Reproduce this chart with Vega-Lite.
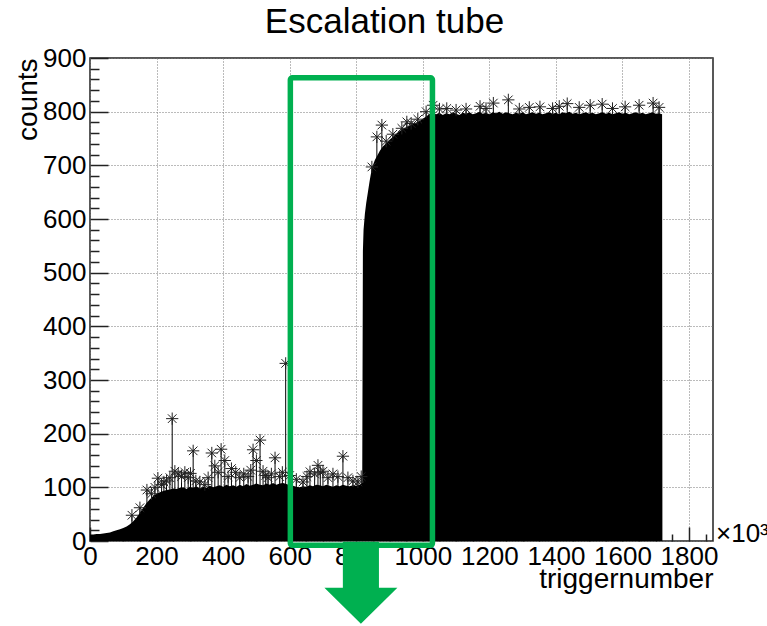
{
  "$schema": "https://vega.github.io/schema/vega-lite/v6.json",
  "width": 623,
  "height": 483,
  "autosize": "none",
  "padding": {"left": 90, "top": 58, "right": 54, "bottom": 85},
  "background": "white",
  "title": {"text": "Escalation tube", "font": "Liberation Sans", "fontSize": 35, "fontWeight": "normal", "color": "black", "anchor": "middle", "frame": "group", "dx": -17, "offset": 5},
  "config": {"view": {"stroke": "#222", "strokeWidth": 1.5}, "font": "Liberation Sans"},
  "datasets": {
    "envelope": [
      {"t": 0, "c": 12}, {"t": 10, "c": 12}, {"t": 20, "c": 13}, {"t": 30, "c": 13}, {"t": 40, "c": 14}, {"t": 50, "c": 15}, {"t": 60, "c": 16}, {"t": 70, "c": 18}, {"t": 80, "c": 20}, {"t": 90, "c": 22},
      {"t": 100, "c": 24}, {"t": 110, "c": 27}, {"t": 120, "c": 31}, {"t": 130, "c": 37}, {"t": 140, "c": 44}, {"t": 150, "c": 53}, {"t": 160, "c": 62}, {"t": 170, "c": 71}, {"t": 180, "c": 78}, {"t": 190, "c": 84},
      {"t": 200, "c": 88}, {"t": 210, "c": 91}, {"t": 220, "c": 93}, {"t": 230, "c": 95}, {"t": 240, "c": 96}, {"t": 250, "c": 98}, {"t": 260, "c": 97}, {"t": 270, "c": 99}, {"t": 280, "c": 100}, {"t": 290, "c": 97},
      {"t": 300, "c": 101}, {"t": 310, "c": 99}, {"t": 320, "c": 102}, {"t": 330, "c": 98}, {"t": 340, "c": 101}, {"t": 350, "c": 99}, {"t": 360, "c": 103}, {"t": 370, "c": 100}, {"t": 380, "c": 102}, {"t": 390, "c": 104},
      {"t": 400, "c": 101}, {"t": 410, "c": 105}, {"t": 420, "c": 102}, {"t": 430, "c": 104}, {"t": 440, "c": 101}, {"t": 450, "c": 105}, {"t": 460, "c": 102}, {"t": 470, "c": 106}, {"t": 480, "c": 103}, {"t": 490, "c": 105},
      {"t": 500, "c": 107}, {"t": 510, "c": 105}, {"t": 520, "c": 104}, {"t": 530, "c": 107}, {"t": 540, "c": 105}, {"t": 550, "c": 108}, {"t": 560, "c": 105}, {"t": 570, "c": 107}, {"t": 580, "c": 108}, {"t": 590, "c": 106},
      {"t": 600, "c": 104}, {"t": 610, "c": 103}, {"t": 620, "c": 101}, {"t": 630, "c": 100}, {"t": 640, "c": 102}, {"t": 650, "c": 101}, {"t": 660, "c": 104}, {"t": 670, "c": 102}, {"t": 680, "c": 105}, {"t": 690, "c": 104},
      {"t": 700, "c": 102}, {"t": 710, "c": 105}, {"t": 720, "c": 103}, {"t": 730, "c": 101}, {"t": 740, "c": 104}, {"t": 750, "c": 102}, {"t": 760, "c": 105}, {"t": 770, "c": 103}, {"t": 780, "c": 102}, {"t": 790, "c": 104},
      {"t": 800, "c": 103}, {"t": 810, "c": 105}, {"t": 818, "c": 108}, {"t": 820, "c": 540}, {"t": 822, "c": 580}, {"t": 826, "c": 610}, {"t": 830, "c": 630}, {"t": 835, "c": 650}, {"t": 840, "c": 670}, {"t": 847, "c": 695},
      {"t": 856, "c": 710}, {"t": 865, "c": 720}, {"t": 871, "c": 727}, {"t": 880, "c": 735}, {"t": 890, "c": 741}, {"t": 901, "c": 748}, {"t": 910, "c": 753}, {"t": 920, "c": 759}, {"t": 931, "c": 764}, {"t": 940, "c": 768},
      {"t": 950, "c": 771}, {"t": 961, "c": 774}, {"t": 970, "c": 777}, {"t": 980, "c": 780}, {"t": 991, "c": 783}, {"t": 1000, "c": 787}, {"t": 1010, "c": 791}, {"t": 1021, "c": 796}, {"t": 1030, "c": 797}, {"t": 1040, "c": 795},
      {"t": 1050, "c": 798}, {"t": 1060, "c": 794}, {"t": 1070, "c": 797}, {"t": 1080, "c": 795}, {"t": 1090, "c": 799}, {"t": 1100, "c": 796}, {"t": 1110, "c": 794}, {"t": 1120, "c": 798}, {"t": 1130, "c": 796}, {"t": 1140, "c": 799},
      {"t": 1150, "c": 795}, {"t": 1160, "c": 797}, {"t": 1170, "c": 800}, {"t": 1180, "c": 796}, {"t": 1190, "c": 798}, {"t": 1200, "c": 795}, {"t": 1210, "c": 799}, {"t": 1220, "c": 797}, {"t": 1230, "c": 800}, {"t": 1240, "c": 796},
      {"t": 1250, "c": 799}, {"t": 1260, "c": 797}, {"t": 1270, "c": 795}, {"t": 1280, "c": 798}, {"t": 1290, "c": 796}, {"t": 1300, "c": 799}, {"t": 1310, "c": 795}, {"t": 1320, "c": 797}, {"t": 1330, "c": 799}, {"t": 1340, "c": 796},
      {"t": 1350, "c": 798}, {"t": 1360, "c": 795}, {"t": 1370, "c": 797}, {"t": 1380, "c": 799}, {"t": 1390, "c": 796}, {"t": 1400, "c": 798}, {"t": 1410, "c": 795}, {"t": 1420, "c": 799}, {"t": 1430, "c": 797}, {"t": 1440, "c": 800},
      {"t": 1450, "c": 796}, {"t": 1460, "c": 798}, {"t": 1470, "c": 795}, {"t": 1480, "c": 797}, {"t": 1490, "c": 799}, {"t": 1500, "c": 796}, {"t": 1510, "c": 798}, {"t": 1520, "c": 795}, {"t": 1530, "c": 797}, {"t": 1540, "c": 799},
      {"t": 1550, "c": 796}, {"t": 1560, "c": 798}, {"t": 1570, "c": 795}, {"t": 1580, "c": 797}, {"t": 1590, "c": 799}, {"t": 1600, "c": 796}, {"t": 1610, "c": 798}, {"t": 1620, "c": 795}, {"t": 1630, "c": 797}, {"t": 1640, "c": 799},
      {"t": 1650, "c": 796}, {"t": 1660, "c": 798}, {"t": 1670, "c": 795}, {"t": 1680, "c": 797}, {"t": 1690, "c": 799}, {"t": 1700, "c": 796}, {"t": 1710, "c": 797}, {"t": 1719, "c": 795}, {"t": 1720, "c": 0}
    ],
    "stars": [
      {"t": 126, "c": 48}, {"t": 150, "c": 62}, {"t": 171, "c": 95}, {"t": 185, "c": 88}, {"t": 195, "c": 100}, {"t": 204, "c": 117}, {"t": 215, "c": 105}, {"t": 222, "c": 110}, {"t": 230, "c": 112}, {"t": 240, "c": 118}, {"t": 247, "c": 228}, {"t": 255, "c": 130}, {"t": 265, "c": 125}, {"t": 275, "c": 120},
      {"t": 285, "c": 128}, {"t": 295, "c": 118}, {"t": 302, "c": 126}, {"t": 310, "c": 168}, {"t": 318, "c": 112}, {"t": 330, "c": 110}, {"t": 345, "c": 105}, {"t": 355, "c": 118}, {"t": 366, "c": 164}, {"t": 375, "c": 140}, {"t": 385, "c": 128}, {"t": 394, "c": 171},
      {"t": 405, "c": 150}, {"t": 415, "c": 120}, {"t": 425, "c": 135}, {"t": 438, "c": 128}, {"t": 450, "c": 118}, {"t": 462, "c": 125}, {"t": 475, "c": 120}, {"t": 483, "c": 132}, {"t": 490, "c": 170}, {"t": 500, "c": 150}, {"t": 511, "c": 188},
      {"t": 520, "c": 130}, {"t": 528, "c": 122}, {"t": 535, "c": 118}, {"t": 545, "c": 125}, {"t": 556, "c": 155}, {"t": 570, "c": 120}, {"t": 578, "c": 128}, {"t": 588, "c": 331}, {"t": 600, "c": 122}, {"t": 620, "c": 115}, {"t": 640, "c": 110}, {"t": 652, "c": 120}, {"t": 661, "c": 129}, {"t": 675, "c": 125},
      {"t": 685, "c": 141}, {"t": 692, "c": 128}, {"t": 700, "c": 130}, {"t": 715, "c": 118}, {"t": 730, "c": 125}, {"t": 745, "c": 120}, {"t": 760, "c": 158}, {"t": 775, "c": 118}, {"t": 790, "c": 112}, {"t": 805, "c": 110}, {"t": 815, "c": 120},
      {"t": 847, "c": 697}, {"t": 862, "c": 753}, {"t": 877, "c": 775}, {"t": 890, "c": 745}, {"t": 910, "c": 758}, {"t": 937, "c": 769}, {"t": 952, "c": 781}, {"t": 965, "c": 778}, {"t": 985, "c": 786}, {"t": 1010, "c": 800},
      {"t": 1031, "c": 812}, {"t": 1050, "c": 805}, {"t": 1072, "c": 806}, {"t": 1100, "c": 803}, {"t": 1130, "c": 805}, {"t": 1172, "c": 810}, {"t": 1190, "c": 806}, {"t": 1212, "c": 816}, {"t": 1257, "c": 822}, {"t": 1290, "c": 805},
      {"t": 1320, "c": 808}, {"t": 1352, "c": 809}, {"t": 1390, "c": 806}, {"t": 1410, "c": 810}, {"t": 1434, "c": 815}, {"t": 1470, "c": 808}, {"t": 1503, "c": 812}, {"t": 1539, "c": 814}, {"t": 1570, "c": 806}, {"t": 1608, "c": 809},
      {"t": 1650, "c": 812}, {"t": 1692, "c": 816}, {"t": 1710, "c": 808}
    ],
    "box": [{"t1": 602, "t2": 1029, "c1": 863, "c2": -8}],
    "arrow": [{"t": 814, "c": -78}],
    "exponent": [{"t": 1872, "c": 0, "label": "×10³"}]
  },
  "layer": [
    {
      "data": {"name": "envelope"},
      "mark": {"type": "area", "color": "black", "interpolate": "linear"},
      "encoding": {
        "x": {"field": "t", "type": "quantitative", "scale": {"domain": [0, 1872], "nice": false, "zero": false},
          "axis": {"orient": "bottom", "values": [0, 200, 400, 600, 800, 1000, 1200, 1400, 1600, 1800], "format": "d", "title": "triggernumber", "titleAnchor": "end", "titleFont": "Liberation Sans", "titleFontSize": 28, "titleFontWeight": "normal", "titleColor": "black", "titlePadding": -4,
            "labelFont": "Liberation Sans", "labelFontSize": 26, "labelColor": "black", "labelPadding": 16, "labelOverlap": false, "labelFlush": false,
            "tickSize": -14, "tickColor": "#222", "tickWidth": 1.5, "domain": false, "grid": true, "gridColor": "#777", "gridDash": [1, 2], "gridWidth": 1}},
        "y": {"field": "c", "type": "quantitative", "scale": {"domain": [0, 900], "nice": false},
          "axis": {"orient": "left", "values": [0, 100, 200, 300, 400, 500, 600, 700, 800, 900], "format": "d", "title": "counts", "titleAnchor": "end", "titleFont": "Liberation Sans", "titleFontSize": 28, "titleFontWeight": "normal", "titleColor": "black", "titlePadding": 0,
            "labelFont": "Liberation Sans", "labelFontSize": 26, "labelColor": "black", "labelPadding": 22, "labelOverlap": false, "labelFlush": false,
            "tickSize": -18, "tickColor": "#222", "tickWidth": 1.5, "domain": false, "grid": true, "gridColor": "#777", "gridDash": [1, 2], "gridWidth": 1}}
      }
    },
    {
      "data": {"name": "stars"},
      "mark": {"type": "rule", "color": "black", "strokeWidth": 1},
      "encoding": {
        "x": {"field": "t", "type": "quantitative",
          "axis": {"orient": "bottom", "values": [50, 100, 150, 250, 300, 350, 450, 500, 550, 650, 700, 750, 850, 900, 950, 1050, 1100, 1150, 1250, 1300, 1350, 1450, 1500, 1550, 1650, 1700, 1750, 1850], "labels": false, "title": null, "grid": false, "domain": false, "tickSize": -7, "tickColor": "#222", "tickWidth": 1.5}},
        "y": {"field": "c", "type": "quantitative",
          "axis": {"orient": "left", "values": [20, 40, 60, 80, 120, 140, 160, 180, 220, 240, 260, 280, 320, 340, 360, 380, 420, 440, 460, 480, 520, 540, 560, 580, 620, 640, 660, 680, 720, 740, 760, 780, 820, 840, 860, 880], "labels": false, "title": null, "grid": false, "domain": false, "tickSize": -9, "tickColor": "#222", "tickWidth": 1.5}},
        "y2": {"datum": 0}
      }
    },
    {
      "data": {"name": "stars"},
      "mark": {"type": "point", "shape": "M0,-1L0,1M-1,0L1,0M-0.7,-0.7L0.7,0.7M-0.7,0.7L0.7,-0.7", "size": 150, "filled": false, "stroke": "#222", "strokeWidth": 1, "opacity": 1},
      "encoding": {
        "x": {"field": "t", "type": "quantitative", "axis": null},
        "y": {"field": "c", "type": "quantitative", "axis": null}
      }
    },
    {
      "data": {"name": "box"},
      "mark": {"type": "rect", "fillOpacity": 0, "stroke": "#00b050", "strokeWidth": 5.5, "cornerRadius": 2},
      "encoding": {
        "x": {"field": "t1", "type": "quantitative", "axis": null},
        "x2": {"field": "t2"},
        "y": {"field": "c1", "type": "quantitative", "axis": null},
        "y2": {"field": "c2"}
      }
    },
    {
      "data": {"name": "arrow"},
      "mark": {"type": "point", "shape": "M-0.44,-1L0.44,-1L0.44,0.12L0.89,0.12L0,1L-0.89,0.12L-0.44,0.12Z", "size": 6724, "filled": true, "color": "#00b050", "opacity": 1, "strokeWidth": 0},
      "encoding": {
        "x": {"field": "t", "type": "quantitative", "axis": null},
        "y": {"field": "c", "type": "quantitative", "axis": null}
      }
    },
    {
      "data": {"name": "exponent"},
      "mark": {"type": "text", "font": "Liberation Sans", "fontSize": 26, "color": "black", "align": "left", "baseline": "alphabetic", "dx": 3, "dy": 1},
      "encoding": {
        "x": {"field": "t", "type": "quantitative", "axis": null},
        "y": {"field": "c", "type": "quantitative", "axis": null},
        "text": {"field": "label"}
      }
    }
  ],
  "resolve": {"axis": {"x": "independent", "y": "independent"}}
}
